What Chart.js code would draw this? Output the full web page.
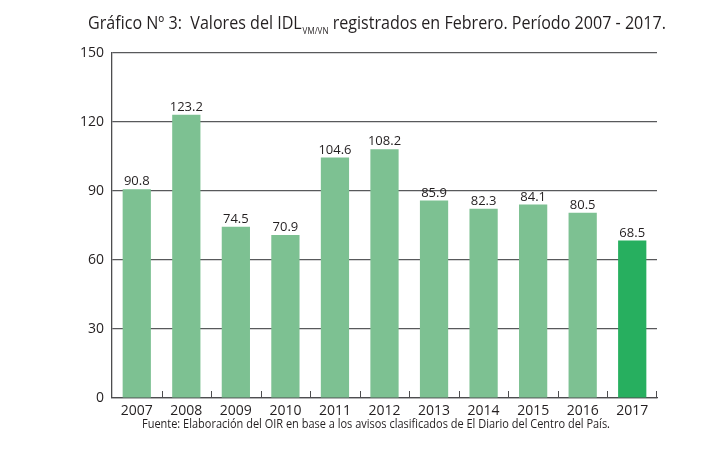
<!DOCTYPE html>
<html>
<head>
<meta charset="utf-8">
<script src="https://cdn.jsdelivr.net/npm/chart.js@4.4.0/dist/chart.umd.min.js"></script>
<style>
  html, body { margin: 0; padding: 0; background: #fff; }
  #wrap { width: 709px; height: 456px; position: relative; }
</style>
</head>
<body>
<div id="wrap"><canvas id="myChart" width="709" height="456"></canvas></div>
<script>
const years = ["2007", "2008", "2009", "2010", "2011", "2012", "2013", "2014", "2015", "2016", "2017"];
const idlValues = [90.8, 123.2, 74.5, 70.9, 104.6, 108.2, 85.9, 82.3, 84.1, 80.5, 68.5];
const yTicks = [0, 30, 60, 90, 120, 150];

const lightGreen = "#7dc192";
const darkGreen = "#27af5f";
const barColors = years.map((y, i) => i === years.length - 1 ? darkGreen : lightGreen);
const FONT = "'Open Sans', sans-serif";

// title with subscript and footnote
const titlePlugin = {
  id: "titlePlugin",
  afterDraw(chart) {
    const ctx = chart.ctx;
    ctx.save();
    ctx.fillStyle = "#231f20";
    ctx.textBaseline = "alphabetic";
    const a = "Gráfico Nº 3:  Valores del IDL";
    const sub = "VM/VN";
    const b = " registrados en Febrero. Período 2007 - 2017.";
    ctx.font = "18px " + FONT;
    const wa = ctx.measureText(a).width, wb = ctx.measureText(b).width;
    ctx.font = "9px " + FONT;
    const ws = ctx.measureText(sub).width;
    const total = wa + ws + wb;
    const sx = 577 / total;
    ctx.translate(88, 29);
    ctx.scale(sx, 1);
    ctx.font = "18px " + FONT;
    ctx.fillText(a, 0, 0);
    ctx.font = "9px " + FONT;
    ctx.fillText(sub, wa + 1, 5);
    ctx.font = "18px " + FONT;
    ctx.fillText(b, wa + ws + 1, 0);
    ctx.restore();

    ctx.save();
    ctx.fillStyle = "#231f20";
    ctx.font = "13px " + FONT;
    ctx.textBaseline = "middle";
    const note = "Fuente: Elaboración del OIR en base a los avisos clasificados de El Diario del Centro del País.";
    const wn = ctx.measureText(note).width;
    ctx.translate(142, 424);
    ctx.scale(468 / wn, 1);
    ctx.fillText(note, 0, 0);
    ctx.restore();
  }
};

// value labels and inner tick marks on the x axis
const labelPlugin = {
  id: "labelPlugin",
  afterDatasetsDraw(chart) {
    const ctx = chart.ctx;
    const meta = chart.getDatasetMeta(0);
    ctx.save();
    ctx.fillStyle = "#231f20";
    ctx.font = "13px " + FONT;
    ctx.textAlign = "center";
    ctx.textBaseline = "bottom";
    meta.data.forEach((bar, i) => {
      ctx.fillText(idlValues[i].toFixed(1), bar.x, bar.y - 1);
    });
    const xs = chart.scales.x;
    const bottom = chart.chartArea.bottom;
    ctx.strokeStyle = "#4d4d4f";
    ctx.lineWidth = 1;
    ctx.beginPath();
    for (let i = 1; i <= years.length; i++) {
      const px = Math.round((xs.getPixelForValue(i - 1) + xs.getPixelForValue(i)) / 2 ) + 0.5;
      const x = i === years.length ? chart.chartArea.right - 0.5 : px;
      ctx.moveTo(x, bottom - 7);
      ctx.lineTo(x, bottom);
    }
    ctx.stroke();
    ctx.restore();
  }
};

new Chart(document.getElementById("myChart"), {
  type: "bar",
  data: {
    labels: years,
    datasets: [{
      data: idlValues,
      backgroundColor: barColors,
      borderWidth: 0,
      barPercentage: 0.57,
      categoryPercentage: 1.0
    }]
  },
  options: {
    responsive: false,
    animation: false,
    layout: { padding: { left: 60, right: 52, top: 53, bottom: 30 } },
    plugins: {
      legend: { display: false },
      tooltip: { enabled: false },
      title: { display: false }
    },
    scales: {
      x: {
        grid: { display: false, drawTicks: false },
        border: { display: true, color: "#4d4d4f", width: 1.3 },
        ticks: { color: "#231f20", font: { family: FONT, size: 14 }, padding: 5, maxRotation: 0 },
        afterFit: (scale) => { scale.height = 28; }
      },
      y: {
        min: 0,
        max: 150,
        afterBuildTicks: (scale) => { scale.ticks = yTicks.map(v => ({ value: v })); },
        grid: { color: "#58595b", lineWidth: 1.2, drawTicks: false },
        border: { display: true, color: "#4d4d4f", width: 1.3 },
        ticks: { color: "#231f20", font: { family: FONT, size: 14 }, padding: 8 },
        afterFit: (scale) => { scale.width = 52; }
      }
    }
  },
  plugins: [titlePlugin, labelPlugin]
});
</script>
</body>
</html>
